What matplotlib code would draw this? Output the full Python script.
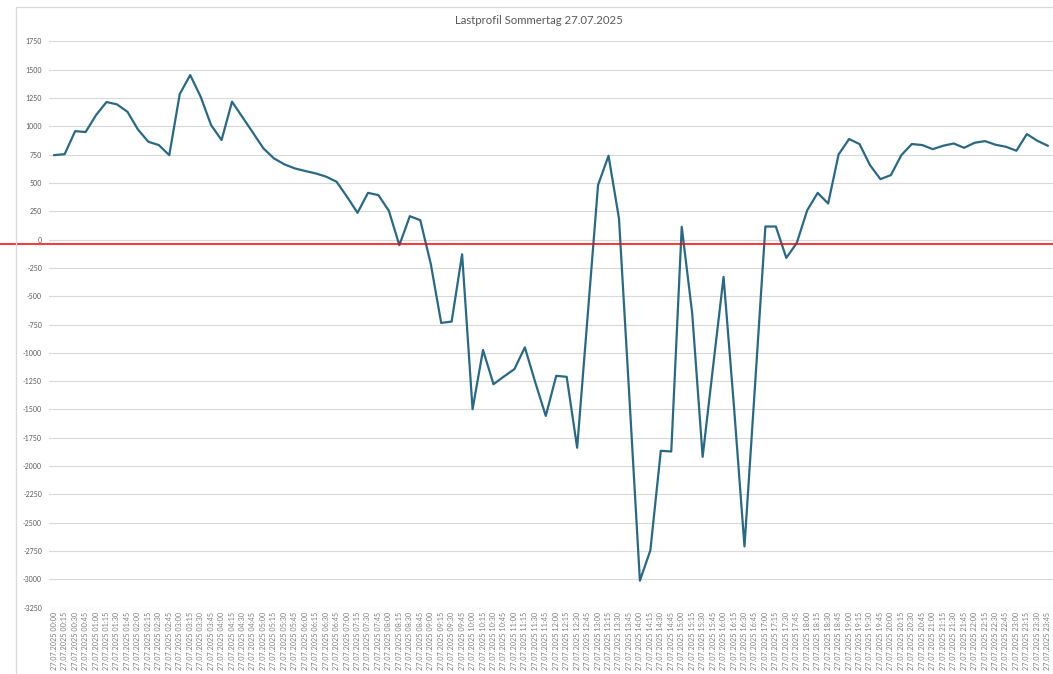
import numpy as np
import matplotlib
matplotlib.use('Agg')
import matplotlib.pyplot as plt
from matplotlib.patches import Rectangle

plt.rcParams['axes.unicode_minus'] = False
plt.rcParams['font.family'] = ['Lato', 'DejaVu Sans']

#%% data
title = 'Lastprofil Sommertag 27.07.2025'
times = ['27.07.2025 %02d:%02d' % (h, m) for h in range(24) for m in (0, 15, 30, 45)]

last = [745, 754, 957, 949, 1099, 1214, 1193, 1128, 972, 863,
        834, 745, 1284, 1452, 1261, 1010, 878, 1217, 1080, 943,
        805, 717, 664, 628, 605, 584, 555, 510, 377, 236,
        412, 392, 253, -50, 206, 171, -213, -736, -724, -130,
        -1498, -975, -1277, -1209, -1144, -952, -1262, -1557, -1203, -1212,
        -1838, -680, 481, 740, 186, -1400, -3011, -2744, -1865, -1871,
        112, -650, -1918, -1120, -330, -1480, -2709, -1300, 115, 115,
        -162, -30, 259, 412, 318, 751, 887, 843, 657, 533,
        569, 745, 843, 834, 798, 828, 848, 810, 854, 869,
        837, 819, 784, 931, 872, 828]

ref_level = -35   # red reference line
yticks = list(range(-3250, 1751, 250))

#%% figure
W, H = 1053, 674
fig = plt.figure(figsize=(W / 100, H / 100), dpi=100)

# chart frame (Excel chart area border)
fig.patches.append(Rectangle((16 / W, -0.1), 1.2, 1.1 - 7 / H,
                             transform=fig.transFigure, fill=False,
                             edgecolor='#d9d9d9', linewidth=0.9))

ax = fig.add_axes([49 / W, (H - 607.7) / H, (W - 49) / W, (607.7 - 41.3) / H])
x = np.arange(len(last))
ax.plot(x, last, color='#2b6882', linewidth=1.6, zorder=3)
ax.axhline(ref_level, xmin=-49 / (W - 49), xmax=1.0, color='#ff0000',
           linewidth=1.1, clip_on=False, zorder=4)

ax.set_xlim(-0.5, len(last) - 0.5)
ax.set_ylim(-3250, 1750)
ax.set_yticks(yticks)
ax.set_yticklabels([str(v) for v in yticks])
ax.set_xticks(x)
ax.set_xticklabels(times, rotation=90)

ax.grid(axis='y', color='#d9d9d9', linewidth=0.8)
ax.set_axisbelow(True)
for s in ax.spines.values():
    s.set_visible(False)
ax.tick_params(axis='y', length=0, pad=5, labelsize=5, labelcolor='#595959')
ax.tick_params(axis='x', length=0, pad=3, labelsize=5.2, labelcolor='#7f7f7f')

fig.text(539 / W, 1 - 21 / H, title, ha='center', va='center',
         fontsize=8.2, color='#595959')

plt.savefig('out.png', dpi=100)
